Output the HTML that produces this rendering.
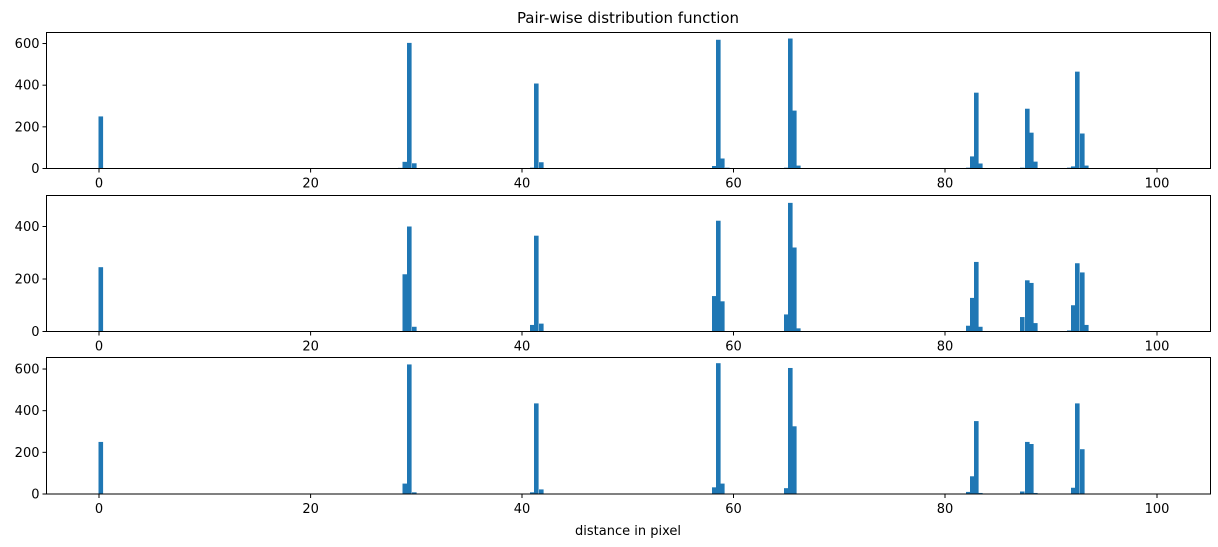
<!DOCTYPE html>
<html><head><meta charset="utf-8"><style>
html,body{margin:0;padding:0;background:#fff;}
svg{display:block;font-family:"DejaVu Sans","Liberation Sans",sans-serif;}
</style></head><body>
<svg id="s" width="1218" height="547" xmlns="http://www.w3.org/2000/svg">
<text x="628" y="23" font-size="15" text-anchor="middle" fill="#000">Pair-wise distribution function</text>
<text x="628" y="535" font-size="13" text-anchor="middle" fill="#000">distance in pixel</text>
</svg>
<script>
const s=document.getElementById('s');
const NS='http://www.w3.org/2000/svg';
function el(t,a,txt){const e=document.createElementNS(NS,t);for(const k in a)e.setAttribute(k,a[k]);if(txt!=null)e.textContent=txt;s.appendChild(e);return e;}
const L=46.5,R=1210.5;
const axes=[
 {top:32.5,bot:168.5,k:0.2083,ticks:[0,200,400,600],bars:[[98.5,250],[398,3],[402.5,32],[407,603],[412,25],[530,4],[534,408],[539,30],[712,12],[716,618],[720,48],[725,4],[784,4],[788,624],[792,278],[796,14],[966,4],[970,58],[974,364],[978,24],[1020,4],[1025,287],[1029,172],[1033,33],[1067,4],[1071,10],[1075,465],[1080,168],[1084,14]]},
 {top:195.5,bot:331.5,k:0.2625,ticks:[0,200,400],bars:[[98.5,245],[402.5,218],[407,400],[412,18],[530,25],[534,365],[539,30],[712,135],[716,422],[720,115],[784,65],[788,490],[792,320],[796,12],[966,22],[970,128],[974,265],[978,18],[1020,55],[1025,195],[1029,185],[1033,32],[1067,4],[1071,100],[1075,260],[1080,225],[1084,25]]},
 {top:357.5,bot:494,k:0.2083,ticks:[0,200,400,600],bars:[[98.5,250],[402.5,50],[407,622],[412,8],[530,8],[534,435],[539,22],[712,32],[716,628],[720,50],[784,28],[788,605],[792,325],[966,10],[970,85],[974,350],[978,5],[1020,12],[1025,250],[1029,240],[1033,5],[1071,30],[1075,435],[1080,215]]}
];
const xt=[[0,99],[20,310.6],[40,522],[60,733.5],[80,945],[100,1157]];
for(const a of axes){
 for(const [x,v] of a.bars){const h=v*a.k;el('rect',{x:x,y:a.bot-h,width:4.6,height:h,fill:'#1f77b4'});}
 el('rect',{x:L,y:a.top,width:R-L,height:a.bot-a.top,fill:'none',stroke:'#000','stroke-width':1});
 for(const t of a.ticks){const y=a.bot-t*a.k;el('line',{x1:L-4,x2:L,y1:y,y2:y,stroke:'#000'});el('text',{x:L-7,y:y+4.5,'font-size':13,'text-anchor':'end'},t);}
 for(const [v,x] of xt){el('line',{x1:x,x2:x,y1:a.bot,y2:a.bot+4,stroke:'#000'});el('text',{x:x,y:a.bot+19,'font-size':13,'text-anchor':'middle'},v);}
}
</script>
</body></html>
